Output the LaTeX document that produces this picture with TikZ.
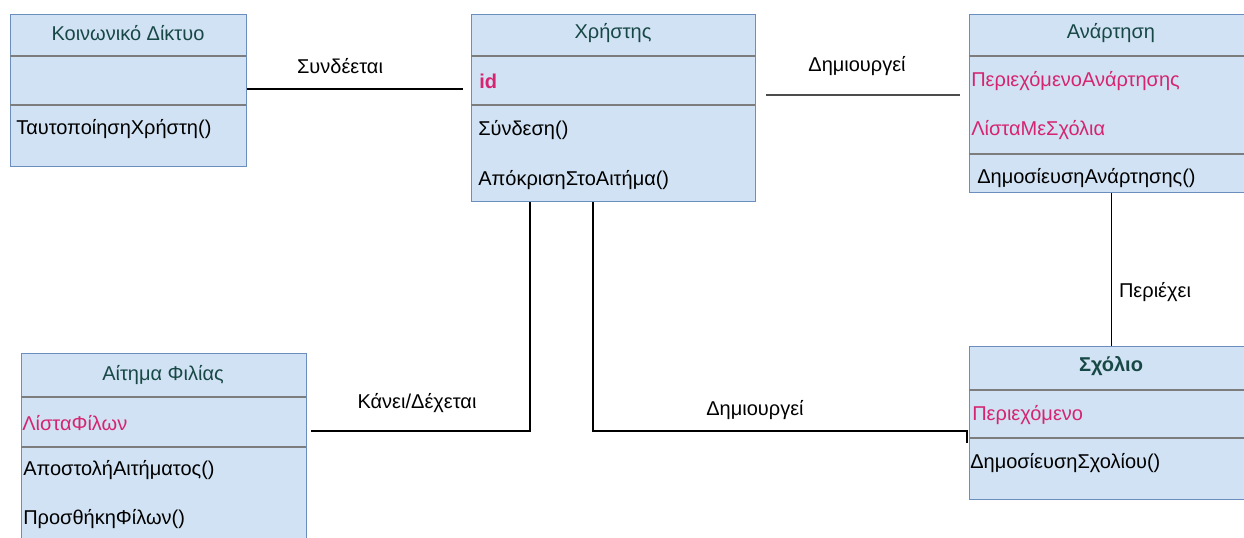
\documentclass[tikz,border=0pt]{standalone}
\usepackage{fontspec}
\setmainfont{Liberation Sans}
\usetikzlibrary{positioning}
\definecolor{classfill}{RGB}{208,226,243}
\definecolor{classdraw}{RGB}{108,142,191}
\definecolor{headtext}{RGB}{24,72,70}
\definecolor{attrpink}{RGB}{214,36,112}
\definecolor{sepgray}{RGB}{125,125,125}

\begin{document}
\begin{tikzpicture}[
    x=0.75pt, y=-0.75pt,
    classbox/.style={rectangle, draw=classdraw, fill=classfill, line width=1.1pt,
                     anchor=north west, inner sep=0pt},
    head/.style={font=\fontsize{15}{17}\selectfont, text=headtext},
    attr/.style={anchor=west, inner sep=0pt, font=\fontsize{15}{17}\selectfont, text=attrpink},
    meth/.style={anchor=west, inner sep=0pt, font=\fontsize{15}{17}\selectfont, text=black},
    sep/.style={draw=sepgray, line width=0.9pt},
    conn/.style={draw=black, line width=1.1pt},
    lbl/.style={font=\fontsize{15}{17}\selectfont}
]
\clip (0,0) rectangle (1244,537);
\fill[white] (0,0) rectangle (1244,537);

% class boxes
\node[classbox, minimum width=177pt, minimum height=114pt] (net) at (10,14) {};
\node[classbox, minimum width=213pt, minimum height=140.25pt] (usr) at (471,14) {};
\node[classbox, minimum width=213pt, minimum height=133.5pt] (post) at (969,14) {};
\node[classbox, minimum width=213.75pt, minimum height=151.5pt] (req) at (21,353) {};
\node[classbox, minimum width=213pt, minimum height=114.75pt] (cmt) at (969,346) {};

% compartments
\draw[sep] (10,56) -- (246,56) (10,105) -- (246,105);
\draw[sep] (471,56) -- (755,56) (471,105) -- (755,105);
\draw[sep] (969,56) -- (1253,56) (969,154) -- (1253,154);
\draw[sep] (21,397) -- (306,397) (21,447) -- (306,447);
\draw[sep] (969,390) -- (1253,390) (969,438) -- (1253,438);

% Κοινωνικό Δίκτυο
\node[head] (netH) at (128,33) {Κοινωνικό Δίκτυο};
\node[meth] (netM1) at (16,129) {ΤαυτοποίησηΧρήστη()};

% Χρήστης
\node[head] (usrH) at (613,33) {Χρήστης};
\node[attr, font=\fontsize{15}{17}\selectfont\bfseries] (usrA1) at (479,81) {id};
\node[meth] (usrM1) at (478,130) {Σύνδεση()};
\node[meth] (usrM2) at (478,180) {ΑπόκρισηΣτοΑιτήμα()};

% Ανάρτηση
\node[head] (postH) at (1111,33) {Ανάρτηση};
\node[attr] (postA1) at (971,81) {ΠεριεχόμενοΑνάρτησης};
\node[attr] (postA2) at (971,130) {ΛίσταΜεΣχόλια};
\node[meth] (postM1) at (977,178) {ΔημοσίευσηΑνάρτησης()};

% Αίτημα Φιλίας
\node[head] (reqH) at (163,375) {Αίτημα Φιλίας};
\node[attr] (reqA1) at (22,423) {ΛίσταΦίλων};
\node[meth] (reqM1) at (23,470) {ΑποστολήΑιτήματος()};
\node[meth] (reqM2) at (23,519) {ΠροσθήκηΦίλων()};

% Σχόλιο
\node[head, font=\fontsize{15}{17}\selectfont\bfseries] (cmtH) at (1111,366) {Σχόλιο};
\node[attr] (cmtA1) at (972,415) {Περιεχόμενο};
\node[meth] (cmtM1) at (970,463) {ΔημοσίευσηΣχολίου()};

% connectors
\coordinate (synE) at (463,89);
\coordinate (dimA) at (766,95);
\coordinate (dimB) at (960,95);
\coordinate (kanC) at (530,431);
\coordinate (kanE) at (311,431);
\coordinate (dimC) at (593,431);
\coordinate (dimD) at (967,431);
\coordinate (dimE) at (967,443);

\draw[conn] (10,89 -| net.east) -- (synE);
\draw[conn, draw=black!70] (dimA) -- (dimB);
\draw[conn] (post.south) -- (cmt.north);
\draw[conn] (kanC |- usr.south) -- (kanC) -- (kanE);
\draw[conn] (dimC |- usr.south) -- (dimC) -- (dimD) -- (dimE);

% labels
\node[lbl] (synL) at (340,66) {Συνδέεται};
\node[lbl] (dimL1) at (857,66) {Δημιουργεί};
\node[lbl] (perL) at (1155,292) {Περιέχει};
\node[lbl] (kanL) at (417,403) {Κάνει/Δέχεται};
\node[lbl] (dimL2) at (755,410) {Δημιουργεί};

\end{tikzpicture}
\end{document}
